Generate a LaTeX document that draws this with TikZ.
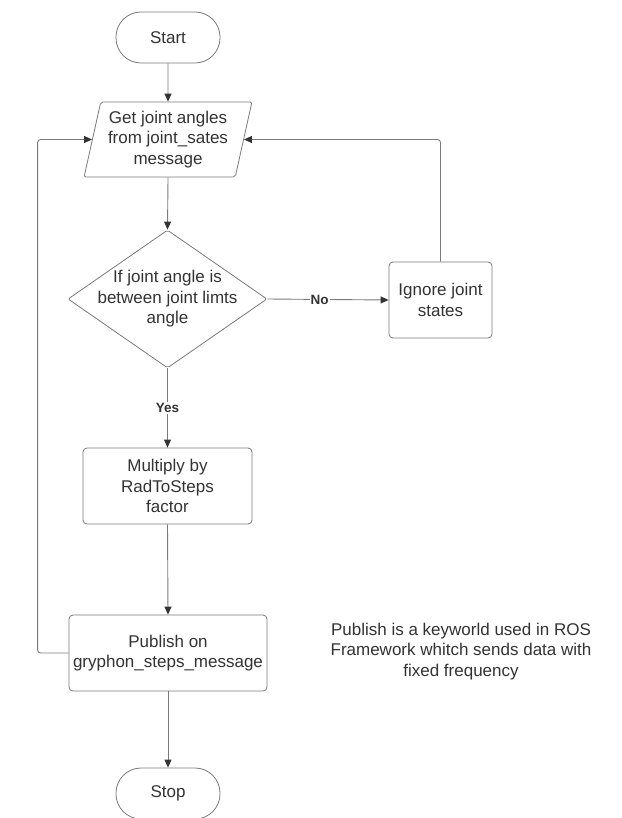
\documentclass[tikz,border=0pt]{standalone}
\usepackage{fontspec}
\setmainfont{Liberation Sans}
\usetikzlibrary{shapes.geometric,arrows.meta}
\definecolor{txt}{HTML}{333333}
\definecolor{edge}{HTML}{7A7A7A}
\definecolor{tipc}{HTML}{333333}
\begin{document}
\begin{tikzpicture}[x=1pt,y=-1pt,
  every node/.style={font=\fontsize{17}{20.5}\selectfont, text=txt, align=center, inner sep=2pt},
  term/.style={draw=edge, line width=0.8pt, rounded corners=25pt, minimum width=104pt, minimum height=51pt},
  procbox/.style={draw=edge, line width=0.8pt, rounded corners=4pt, minimum height=76pt},
  iobox/.style={draw=edge, line width=0.8pt, trapezium, trapezium left angle=75.8, trapezium right angle=104.2, trapezium stretches=true, minimum width=168pt, minimum height=75pt, rounded corners=2pt},
  decision/.style={draw=edge, line width=0.8pt, diamond, minimum width=199pt, minimum height=138pt, inner sep=0pt, rounded corners=2pt},
  conn/.style={draw=edge, line width=0.9pt, -{Triangle[length=8pt,width=7pt,color=tipc]}},
  lbl/.style={font=\bfseries\fontsize{13.5}{16}\selectfont, fill=white, inner sep=1pt}
]
\useasboundingbox[fill=white] (0,0) rectangle (621,818);

\node[term] (start) at (168,37.5) {Start};
\node[iobox] (par) at (168,139.5) {Get joint angles\\from joint\_sates\\message};
\node[decision] (dia) at (167.5,299) {};
\node (diatext) at (dia.center) {If joint angle is\\between joint limts\\angle};
\node[procbox, minimum width=103pt] (ign) at (440.5,300) {Ignore joint\\states};
\node[procbox, minimum width=169pt] (mul) at (167.5,486) {Multiply by\\RadToSteps\\factor};
\node[procbox, minimum width=198pt] (pub) at (168,653) {Publish on\\gryphon\_steps\_message};
\node[term] (stop) at (168,793.5) {Stop};
\node (note) at (461,651.5) {Publish is a keyworld used in ROS\\Framework whitch sends data with\\fixed frequency};

\draw[conn] (start.south) -- (par.north);
\draw[conn] (par.south) -- (dia.north);
\draw[conn] (dia.east) -- node[lbl, pos=0.43] (no) {No} (ign.west);
\draw[conn, rounded corners=3pt] (ign.north) |- (par.east);
\draw[conn] (dia.south) -- node[lbl] (yes) {Yes} (mul.north);
\draw[conn] (mul.south) -- (pub.north);
\draw[conn, rounded corners=3pt] (pub.west) -- ++(-31,0) |- (par.west);
\draw[conn] (pub.south) -- (stop.north);
\end{tikzpicture}
\end{document}
